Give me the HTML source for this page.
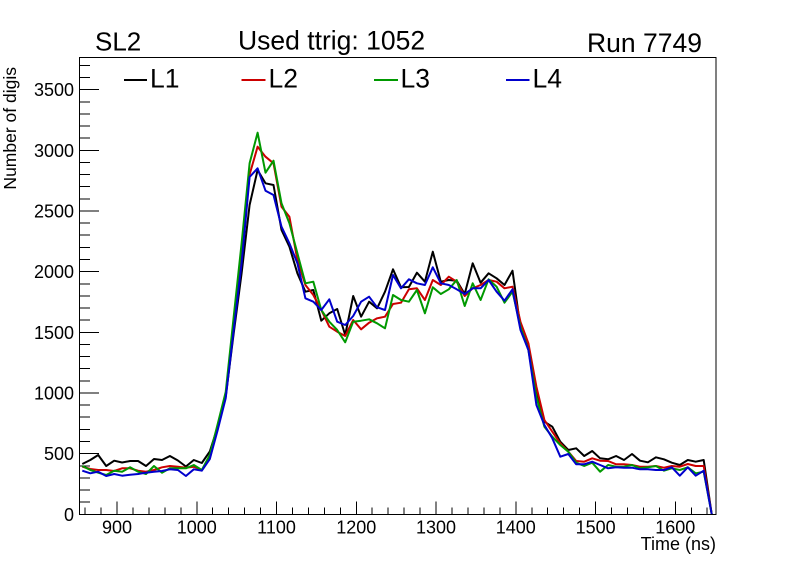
<!DOCTYPE html>
<html><head><meta charset="utf-8"><style>
html,body{margin:0;padding:0;background:#fff;}
svg{display:block;}
text{font-family:"Liberation Sans",Arial,sans-serif;fill:#000;}
</style></head><body>
<svg width="796" height="572" viewBox="0 0 796 572" xmlns="http://www.w3.org/2000/svg">
<rect x="0" y="0" width="796" height="572" fill="#fff"/>
<!-- frame -->
<rect x="79.5" y="57.5" width="636.5" height="456.8" fill="none" stroke="#000" stroke-width="1" shape-rendering="crispEdges"/>
<!-- Y ticks -->
<g stroke="#000" stroke-width="1" shape-rendering="crispEdges">
<path d="M79 514.3H99 M79 453.6H99 M79 393H99 M79 332.3H99 M79 271.6H99 M79 211H99 M79 150.3H99 M79 89.6H99"/>
<path d="M79 502.2H90 M79 490.0H90 M79 477.9H90 M79 465.8H90 M79 441.5H90 M79 429.4H90 M79 417.2H90 M79 405.1H90 M79 380.8H90 M79 368.7H90 M79 356.6H90 M79 344.4H90 M79 320.2H90 M79 308.0H90 M79 295.9H90 M79 283.8H90 M79 259.5H90 M79 247.4H90 M79 235.2H90 M79 223.1H90 M79 198.8H90 M79 186.7H90 M79 174.6H90 M79 162.4H90 M79 138.2H90 M79 126.0H90 M79 113.9H90 M79 101.8H90 M79 77.5H90 M79 65.4H90"/>
<!-- X ticks -->
<path d="M117 514V501.3 M196.8 514V501.3 M276.5 514V501.3 M356.3 514V501.3 M436 514V501.3 M515.8 514V501.3 M595.6 514V501.3 M675.3 514V501.3"/>
<path d="M85.1 514V507.3 M101 514V507.3 M133 514V507.3 M148.9 514V507.3 M164.9 514V507.3 M180.8 514V507.3 M212.7 514V507.3 M228.7 514V507.3 M244.6 514V507.3 M260.6 514V507.3 M292.5 514V507.3 M308.4 514V507.3 M324.4 514V507.3 M340.3 514V507.3 M372.2 514V507.3 M388.2 514V507.3 M404.1 514V507.3 M420.1 514V507.3 M452 514V507.3 M467.9 514V507.3 M483.9 514V507.3 M499.8 514V507.3 M531.8 514V507.3 M547.7 514V507.3 M563.7 514V507.3 M579.6 514V507.3 M611.5 514V507.3 M627.5 514V507.3 M643.4 514V507.3 M659.4 514V507.3 M691.3 514V507.3 M707.2 514V507.3"/>
</g>
<!-- Y labels -->
<g font-size="18" text-anchor="end">
<text x="74" y="520.8">0</text>
<text x="74" y="460.1">500</text>
<text x="74" y="399.5">1000</text>
<text x="74" y="338.8">1500</text>
<text x="74" y="278.1">2000</text>
<text x="74" y="217.5">2500</text>
<text x="74" y="156.8">3000</text>
<text x="74" y="96.1">3500</text>
</g>
<!-- X labels -->
<g font-size="18" text-anchor="middle">
<text x="117" y="533.5">900</text>
<text x="196.8" y="533.5">1000</text>
<text x="276.5" y="533.5">1100</text>
<text x="356.3" y="533.5">1200</text>
<text x="436" y="533.5">1300</text>
<text x="515.8" y="533.5">1400</text>
<text x="595.6" y="533.5">1500</text>
<text x="675.3" y="533.5">1600</text>
</g>
<text x="716" y="550" font-size="18" text-anchor="end">Time (ns)</text>
<text transform="translate(16,67) rotate(-90)" font-size="17.5" text-anchor="end">Number of digis</text>
<!-- titles -->
<text x="95" y="50.5" font-size="26">SL2</text>
<text x="238" y="49.5" font-size="26.5">Used ttrig: 1052</text>
<text x="587" y="52" font-size="26.5">Run 7749</text>
<!-- legend -->
<g stroke-width="2">
<line x1="124" y1="80" x2="147" y2="80" stroke="#000"/>
<line x1="241.5" y1="80" x2="265.5" y2="80" stroke="#cc0000"/>
<line x1="374" y1="80" x2="398" y2="80" stroke="#009900"/>
<line x1="506" y1="80" x2="529.5" y2="80" stroke="#0000cc"/>
</g>
<g font-size="26.5">
<text x="150" y="87.5">L1</text>
<text x="268.5" y="87.5">L2</text>
<text x="400.5" y="87.5">L3</text>
<text x="532.5" y="87.5">L4</text>
</g>
<!-- series -->
<g fill="none" stroke-width="2" stroke-linejoin="round">
<polyline stroke="#000" points="82.3,464 90.3,460 98.2,455 106.2,466 114.2,460.7 122.1,462.5 130.1,461 138.1,461 146.0,466 154.0,459 162.0,460 169.9,456 177.9,460.5 185.9,466.5 193.8,460 201.8,463 209.8,451.5 217.7,426.7 225.7,396.7 233.7,333.3 241.6,273.3 249.6,205 257.6,170 265.5,183.3 273.5,185 281.5,230 289.4,246.7 297.4,273.3 305.4,291.7 313.3,290 321.3,320.7 329.3,313.3 337.2,309 345.2,335 353.2,296 361.1,316.7 369.1,301.7 377.1,308.3 385.0,291.7 393.0,269.3 401.0,287.3 408.9,287 416.9,272.7 424.9,281.7 432.8,251.7 440.8,281.7 448.8,280 456.7,280.7 464.7,294 472.7,263.3 480.6,282.7 488.6,273.3 496.6,278.3 504.5,285 512.5,270.7 520.5,328 528.4,348.3 536.4,393.3 544.4,421.7 552.3,426.7 560.3,441.7 568.3,450 576.2,448.3 584.2,456 592.2,451 600.1,458.3 608.1,459.3 616.1,456 624.0,460 632.0,454 640.0,460.7 647.9,462.3 655.9,457.3 663.9,459.3 671.8,462.7 679.8,465 687.8,460 695.7,461.7 703.7,460 711.7,514"/>
<polyline stroke="#cc0000" points="82.3,466.7 90.3,469 98.2,470 106.2,470 114.2,471 122.1,468.3 130.1,468.3 138.1,470.7 146.0,471.7 154.0,470 162.0,467.3 169.9,466 177.9,466.7 185.9,467.7 193.8,466.7 201.8,470 209.8,458.5 217.7,427 225.7,396 233.7,326 241.6,250 249.6,174.5 257.6,146.7 265.5,156.7 273.5,163.3 281.5,206.7 289.4,216.7 297.4,260 305.4,285 313.3,295 321.3,310 329.3,326.7 337.2,331.7 345.2,336 353.2,320 361.1,329.3 369.1,322.7 377.1,318.3 385.0,316.7 393.0,304 401.0,302.7 408.9,289.3 416.9,288.3 424.9,300 432.8,280 440.8,285 448.8,276.7 456.7,281.7 464.7,296 472.7,288.3 480.6,285 488.6,280 496.6,281.7 504.5,288.3 512.5,286.7 520.5,322 528.4,343.3 536.4,386.7 544.4,420 552.3,431.7 560.3,443.3 568.3,451.7 576.2,461 584.2,461.7 592.2,458.3 600.1,460.7 608.1,461 616.1,464.3 624.0,464.3 632.0,465 640.0,466.7 647.9,466.7 655.9,466 663.9,467.7 671.8,466 679.8,466.7 687.8,464 695.7,466 703.7,466 711.7,514"/>
<polyline stroke="#009900" points="82.3,466 90.3,470 98.2,472.7 106.2,475 114.2,470.7 122.1,471.7 130.1,467.3 138.1,471.7 146.0,474 154.0,466 162.0,472.7 169.9,468.3 177.9,468.3 185.9,468.3 193.8,465 201.8,470 209.8,455 217.7,424 225.7,392 233.7,316.7 241.6,243.3 249.6,163.3 257.6,132.7 265.5,172.7 273.5,160.7 281.5,203.3 289.4,223.3 297.4,253.3 305.4,283.3 313.3,281.7 321.3,310 329.3,321.7 337.2,330 345.2,342.3 353.2,321.7 361.1,320.7 369.1,319.3 377.1,323.3 385.0,328.3 393.0,295 401.0,300 408.9,301.7 416.9,290 424.9,313.3 432.8,287.3 440.8,294 448.8,289.3 456.7,280 464.7,306 472.7,283.3 480.6,300 488.6,279.3 496.6,286.7 504.5,302.7 512.5,291.7 520.5,327 528.4,350 536.4,396.7 544.4,426.7 552.3,436.7 560.3,445 568.3,451.7 576.2,462.7 584.2,466 592.2,462.7 600.1,471.7 608.1,465 616.1,466.7 624.0,466.7 632.0,465 640.0,468.3 647.9,467.3 655.9,466 663.9,470.7 671.8,468.3 679.8,470 687.8,467.3 695.7,473.3 703.7,471.7 711.7,514"/>
<polyline stroke="#0000cc" points="82.3,470.7 90.3,473.3 98.2,471.7 106.2,476 114.2,474 122.1,475.7 130.1,474.7 138.1,474 146.0,472.7 154.0,471.7 162.0,471 169.9,469.3 177.9,470 185.9,476 193.8,469.3 201.8,470.7 209.8,459 217.7,430 225.7,398.3 233.7,330 241.6,263.3 249.6,177 257.6,168.3 265.5,190.7 273.5,195 281.5,226.7 289.4,243.3 297.4,263.3 305.4,298.3 313.3,301.7 321.3,310 329.3,299.3 337.2,321.7 345.2,325 353.2,316 361.1,301.7 369.1,296.7 377.1,307.3 385.0,310 393.0,275 401.0,288.3 408.9,279.3 416.9,283.3 424.9,285 432.8,267.3 440.8,283.3 448.8,285 456.7,289.3 464.7,294 472.7,288.3 480.6,288.3 488.6,280 496.6,291.7 504.5,300.7 512.5,289.3 520.5,330 528.4,350 536.4,405 544.4,425 552.3,438.3 560.3,456.7 568.3,454 576.2,464.3 584.2,464.3 592.2,461.7 600.1,465 608.1,468.3 616.1,467.3 624.0,467.7 632.0,467.7 640.0,469.3 647.9,469.3 655.9,470 663.9,470 671.8,467.3 679.8,475.7 687.8,467.3 695.7,475.7 703.7,470.7 711.7,514"/>
</g>
</svg>
</body></html>
